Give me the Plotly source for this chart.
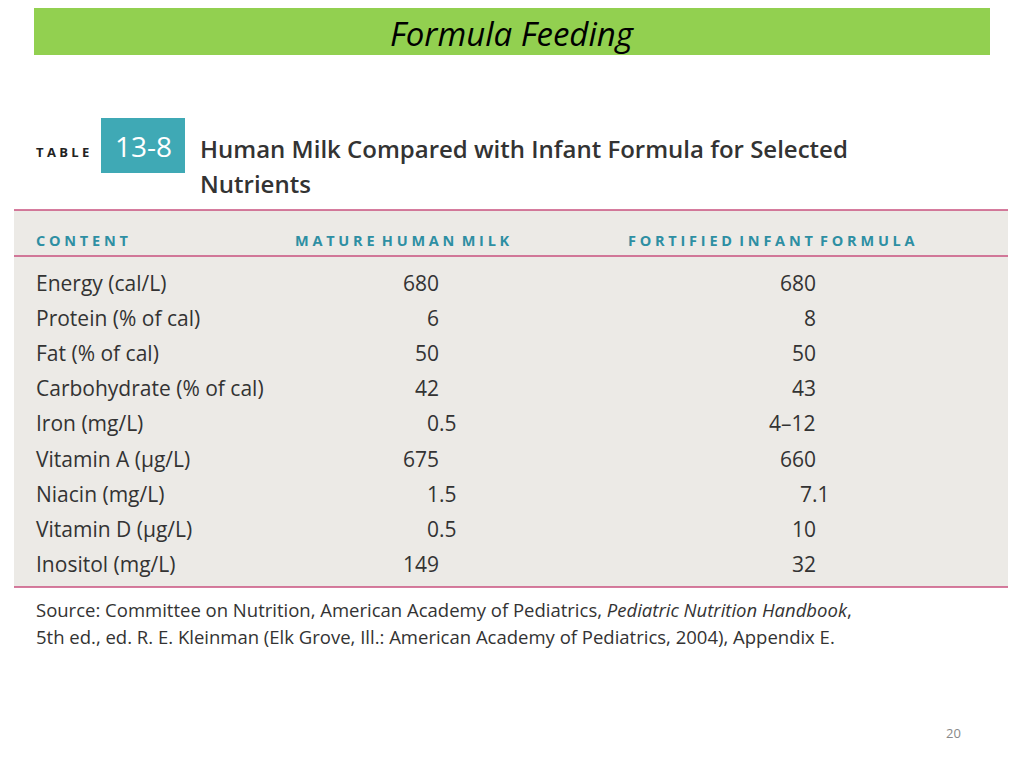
import plotly.graph_objects as go

nutrients = ["Energy (cal/L)", "Protein (% of cal)", "Fat (% of cal)", "Carbohydrate (% of cal)",
             "Iron (mg/L)", "Vitamin A (\u03bcg/L)", "Niacin (mg/L)", "Vitamin D (\u03bcg/L)", "Inositol (mg/L)"]
human_milk = ["680", "6", "50", "42", "0.5", "675", "1.5", "0.5", "149"]
infant_formula = ["680", "8", "50", "43", "4\u201312", "660", "7.1", "10", "32"]
headers = ["CONTENT", "MATURE HUMAN MILK", "FORTIFIED INFANT FORMULA"]

FONT = "Open Sans"
TEAL = "#2E8FA3"
PINK = "#C8507E"
TXT = "#333333"

fig = go.Figure()
fig.add_trace(go.Scatter(x=[0], y=[0], mode="markers", marker=dict(opacity=0), hoverinfo="skip", showlegend=False))

shapes = [
    dict(type="rect", x0=34, x1=990, y0=8, y1=55, fillcolor="#92D050", line=dict(width=0)),
    dict(type="rect", x0=14, x1=1008, y0=210, y1=587, fillcolor="#ECEAE6", line=dict(width=0)),
    dict(type="rect", x0=101, x1=185, y0=118, y1=173, fillcolor="#3FA9B5", line=dict(width=0)),
]
for yy in [210, 256, 587]:
    shapes.append(dict(type="line", x0=14, x1=1008, y0=yy, y1=yy, line=dict(color=PINK, width=1.5)))

ann = []
def A(x, y, t, size, color=TXT, xanchor="left", family=FONT, weight="normal", **kw):
    ann.append(dict(x=x, y=y, text=t, showarrow=False, xanchor=xanchor, yanchor="middle",
                    font=dict(size=size, color=color, family=family, weight=weight), **kw))

A(512, 33, "<i>Formula Feeding</i>", 33, color="#000000", xanchor="center", family="Open Sans")
A(34, 152, "<b>T A B L E</b>", 13, color="#222222")
A(143, 146, "13-8", 28, color="white", xanchor="center")
A(198, 148, "Human Milk Compared with Infant Formula for Selected", 24, color="#333333", weight=600)
A(198, 183, "Nutrients", 24, color="#333333", weight=600)

def spaced(s):
    return "<b>" + " ".join(list(s)).replace("   ", "\u2002") + "</b>"
A(34, 240, spaced(headers[0]), 14.5, color=TEAL)
A(293, 240, spaced(headers[1]), 14.5, color=TEAL)
A(626, 240, spaced(headers[2]), 14.5, color=TEAL)

row_y = [283, 318, 353, 388, 423, 459, 494, 529, 564]
for i, (n, h, f) in enumerate(zip(nutrients, human_milk, infant_formula)):
    y = row_y[i]
    A(34, y, n, 21)
    A(459 if "." in h else 441, y, h, 21, xanchor="right")
    A(832 if "." in f else 818, y, f, 21, xanchor="right")

A(34, 609, "Source: Committee on Nutrition, American Academy of Pediatrics, <i>Pediatric Nutrition Handbook</i>,", 18.5)
A(34, 636, "5th ed., ed. R. E. Kleinman (Elk Grove, Ill.: American Academy of Pediatrics, 2004), Appendix E.", 18.5)
A(953, 733, "20", 13, color="#888888", xanchor="center")

fig.update_layout(
    width=1024, height=768, margin=dict(l=0, r=0, t=0, b=0),
    paper_bgcolor="white", plot_bgcolor="white",
    xaxis=dict(range=[8, 1032], visible=False, fixedrange=True),
    yaxis=dict(range=[776, 8], visible=False, fixedrange=True),
    shapes=shapes, annotations=ann, showlegend=False,
)
fig.write_html("out.html")
